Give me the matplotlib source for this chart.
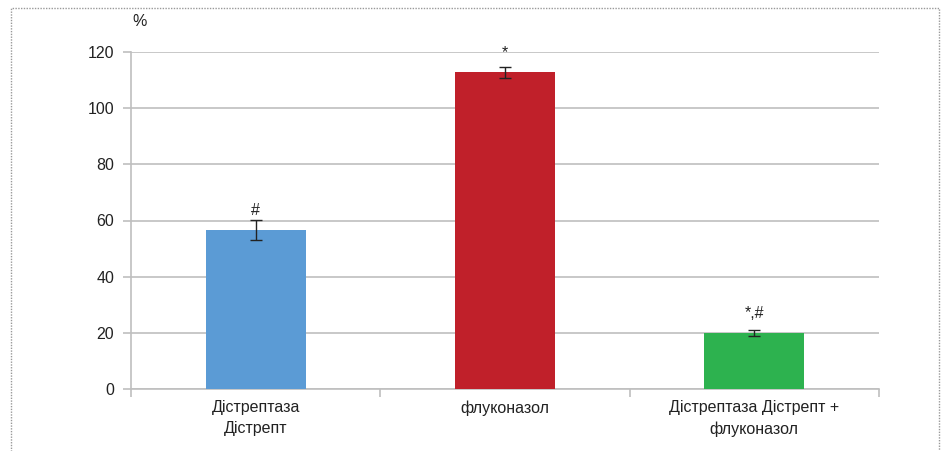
import matplotlib.pyplot as plt
from matplotlib.patches import Rectangle

plt.rcParams['font.family'] = ['Liberation Sans', 'DejaVu Sans']

# data
categories = ['Дістрептаза\nДістрепт', 'флуконазол', 'Дістрептаза Дістрепт +\nфлуконазол']
values = [56.6, 112.8, 20.0]
errors = [3.5, 2.0, 1.0]
marks = ['#', '*', '*,#']
mark_gap = [3.6, 5.0, 6.0]   # space between error bar and significance mark
colors = ['#5B9BD5', '#C0202A', '#2DB24F']
yticks = [0, 20, 40, 60, 80, 100, 120]

grid_col = '#BFBFBF'

fig = plt.figure(figsize=(9.43, 4.51), dpi=100)
ax = fig.add_axes([131 / 943, 62 / 451, 748 / 943, 337 / 451])

x = list(range(len(categories)))
ax.bar(x, values, width=0.4, color=colors, zorder=3)
ax.errorbar(x, values, yerr=errors, fmt='none', ecolor='#222222',
            elinewidth=1, capsize=4.5, capthick=1, zorder=4)

for xi, v, e, m, g in zip(x, values, errors, marks, mark_gap):
    ax.text(xi, v + e + g, m, ha='center', va='center', fontsize=11.5, color='#222222')

ax.set_xlim(-0.5, 2.5)
ax.set_ylim(0, 120)
ax.set_yticks(yticks)
ax.set_yticklabels([str(t) for t in yticks], fontsize=11.5, color='#222222')
ax.yaxis.grid(True, color=grid_col, linewidth=1.2, zorder=0)
ax.set_axisbelow(True)

ax.set_xticks(x)
ax.set_xticklabels(categories, fontsize=11.5, color='#222222', linespacing=1.5)
ax.tick_params(axis='x', length=0, pad=8)
ax.set_xticks([-0.5, 0.5, 1.5, 2.5], minor=True)
ax.tick_params(axis='x', which='minor', length=6, color=grid_col, width=1.2)
ax.tick_params(axis='y', length=6, color=grid_col, width=1.2, pad=6)

for s in ['top', 'right']:
    ax.spines[s].set_visible(False)
for s in ['left', 'bottom']:
    ax.spines[s].set_color(grid_col)
    ax.spines[s].set_linewidth(1.2)

fig.text(140 / 943, 1 - 22 / 451, '%', ha='center', va='center', fontsize=11.5, color='#222222')

# dotted frame around the figure
fig.patches.append(Rectangle((11 / 943, -0.05), 928 / 943, 1 - 8 / 451 + 0.05,
                             transform=fig.transFigure, fill=False,
                             edgecolor='#999999', linestyle=(0, (1, 1)), linewidth=1))

fig.savefig('out.png', dpi=100)
